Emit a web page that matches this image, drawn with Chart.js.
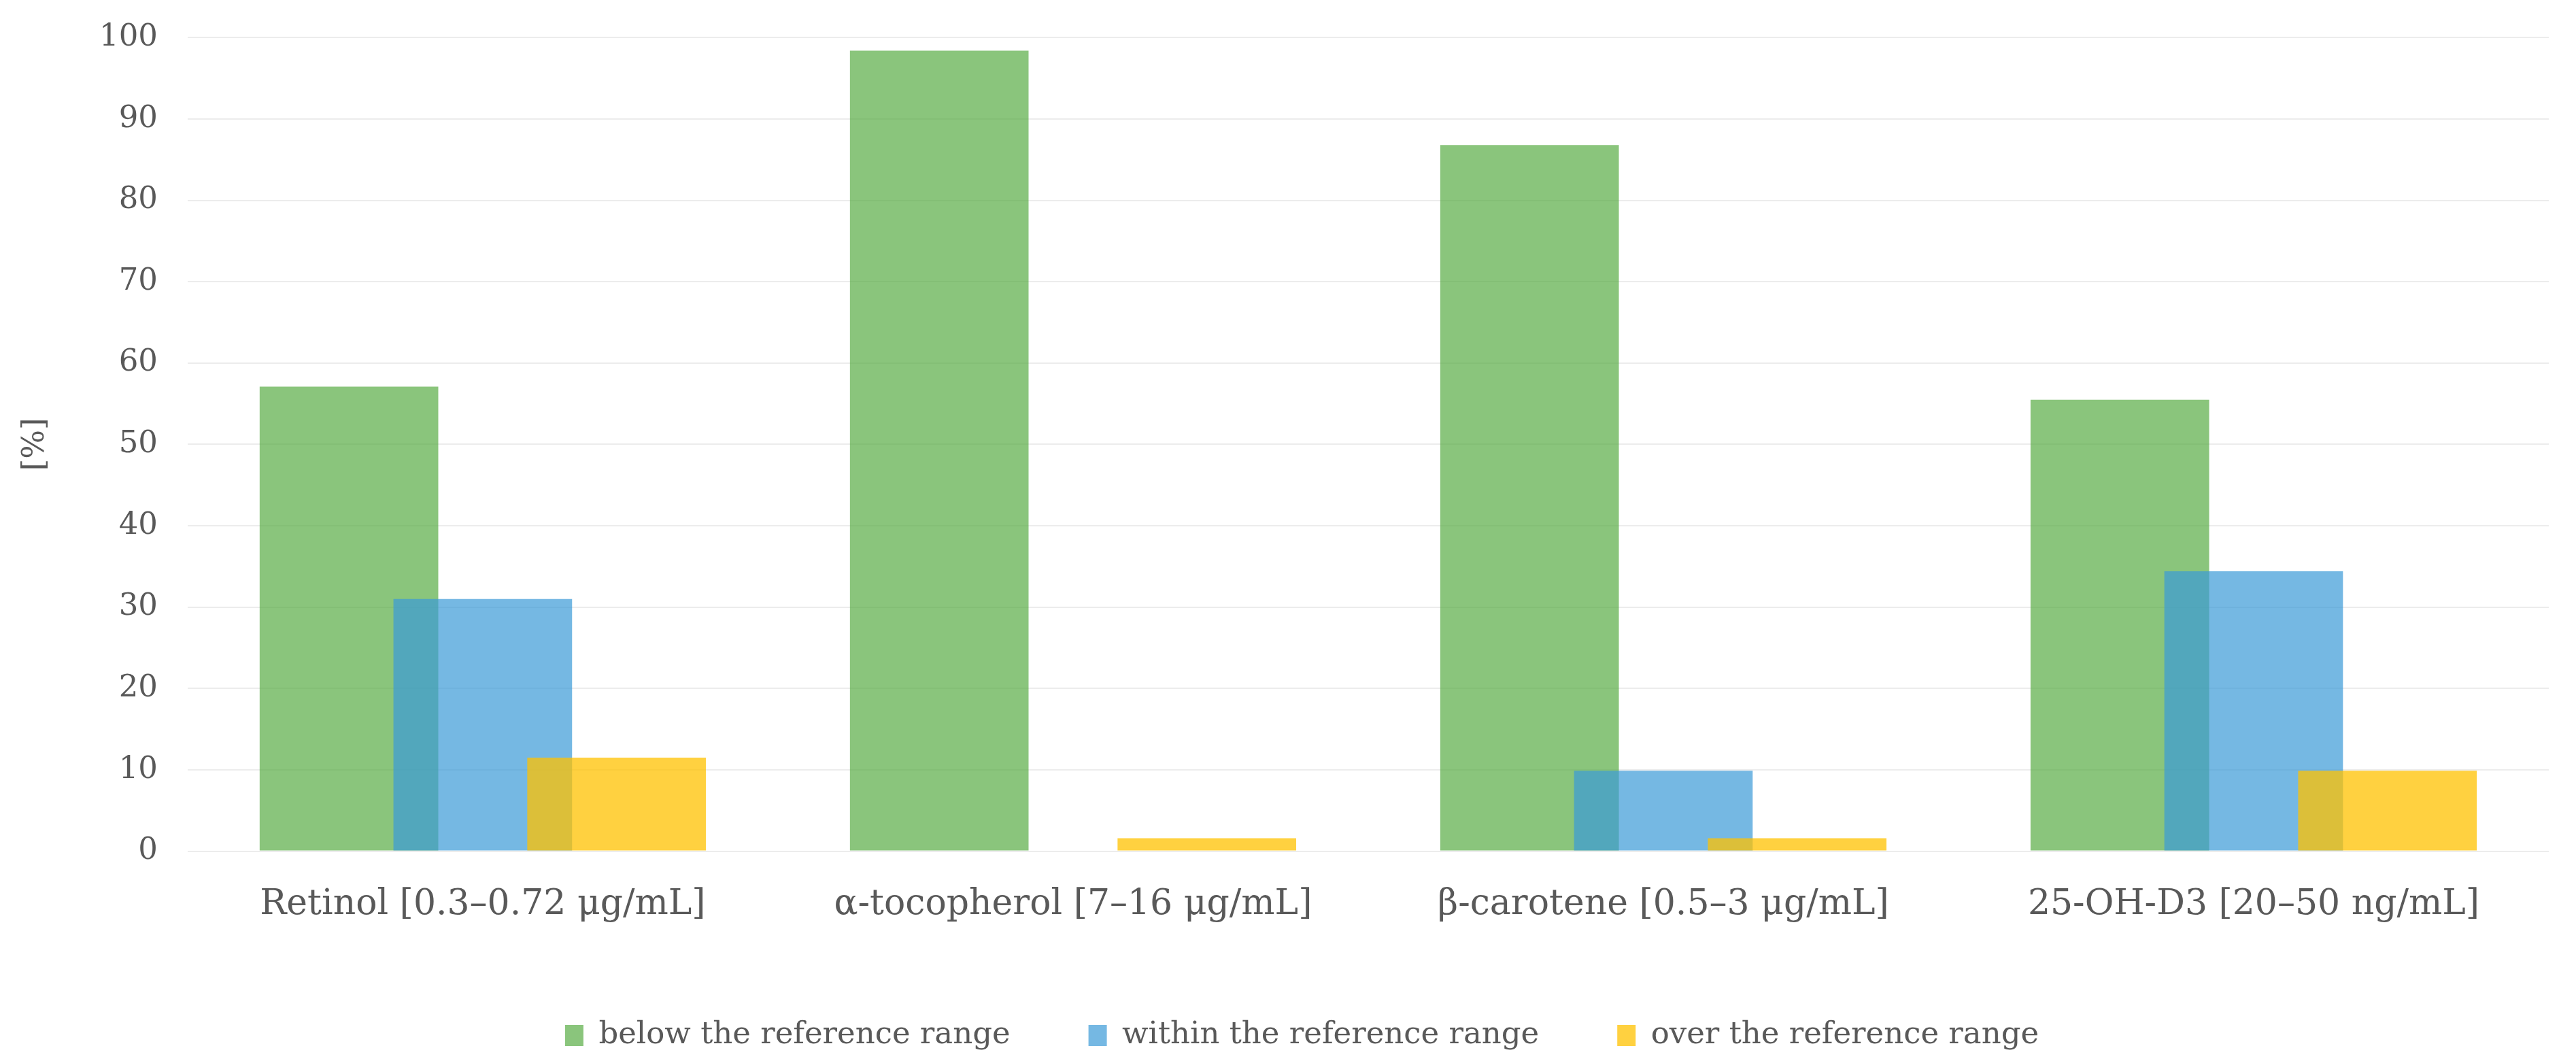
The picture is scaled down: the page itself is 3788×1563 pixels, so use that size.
<!DOCTYPE html>
<html>
<head>
<meta charset="utf-8">
<script src="https://cdn.jsdelivr.net/npm/chart.js@4.4.1/dist/chart.umd.min.js"></script>
<style>
  html, body { margin: 0; padding: 0; background: #fff; }
</style>
</head>
<body>
<canvas id="myChart" width="3788" height="1563"></canvas>
<script>
const categories = [
    'Retinol [0.3–0.72 μg/mL]',
    'α-tocopherol [7–16 μg/mL]',
    'β-carotene [0.5–3 μg/mL]',
    '25-OH-D3 [20–50 ng/mL]'
];
const seriesNames = ['below the reference range', 'within the reference range', 'over the reference range'];
const belowValues = [57.1, 98.4, 86.8, 55.5];
const withinValues = [31.0, 0, 9.9, 34.4];
const overValues = [11.5, 1.6, 1.6, 9.9];
const yTicks = [0, 10, 20, 30, 40, 50, 60, 70, 80, 90, 100];

const fontFamily = "'DejaVu Serif', 'Liberation Serif', serif";
const textColor = '#595959';

// draw dataset 0 first so the later bars sit on top of the earlier ones
const drawInOrder = {
    id: 'drawInOrder',
    beforeDatasetsDraw(chart) {
        chart.getSortedVisibleDatasetMetas().forEach(meta => meta.controller.draw());
        return false;
    }
};

// legend sits a little right of the canvas centre in the original
const legendShift = {
    id: 'legendShift',
    afterLayout(chart) {
        chart.legend.left += 28;
        chart.legend.right += 28;
    }
};

const ctx = document.getElementById('myChart').getContext('2d');
const myChart = new Chart(ctx, {
    type: 'bar',
    data: {
        labels: categories,
        datasets: [
            { label: seriesNames[0], data: belowValues, backgroundColor: 'rgba(88,172,68,0.7)' },
            { label: seriesNames[1], data: withinValues, backgroundColor: 'rgba(59,154,215,0.7)' },
            { label: seriesNames[2], data: overValues, backgroundColor: 'rgba(255,194,0,0.75)' }
        ]
    },
    options: {
        responsive: false,
        devicePixelRatio: 1,
        animation: false,
        categoryPercentage: 0.68,
        barPercentage: 1.335,
        layout: { padding: { top: 17, right: 40, left: 25, bottom: 8 } },
        plugins: {
            tooltip: { enabled: false },
            legend: {
                position: 'bottom',
                labels: {
                    color: textColor,
                    font: { family: fontFamily, size: 45 },
                    boxWidth: 27,
                    boxHeight: 31,
                    padding: 115
                }
            }
        },
        scales: {
            x: {
                grid: { display: false },
                border: { display: false },
                ticks: {
                    color: textColor,
                    font: { family: fontFamily, size: 52 },
                    padding: 40,
                    maxRotation: 0
                },
                afterFit: scale => { scale.height -= 17; }
            },
            y: {
                min: 0,
                max: 100,
                afterBuildTicks: scale => { scale.ticks = yTicks.map(v => ({ value: v })); },
                grid: { color: '#ececec', lineWidth: 2, drawTicks: false },
                border: { display: false },
                ticks: {
                    color: textColor,
                    font: { family: fontFamily, size: 45, lineHeight: 0.5 },
                    padding: 44
                },
                title: {
                    display: true,
                    text: '[%]',
                    color: textColor,
                    font: { family: fontFamily, size: 45 },
                    padding: { top: 0, bottom: 23 }
                }
            }
        }
    },
    plugins: [drawInOrder, legendShift]
});
</script>
</body>
</html>
